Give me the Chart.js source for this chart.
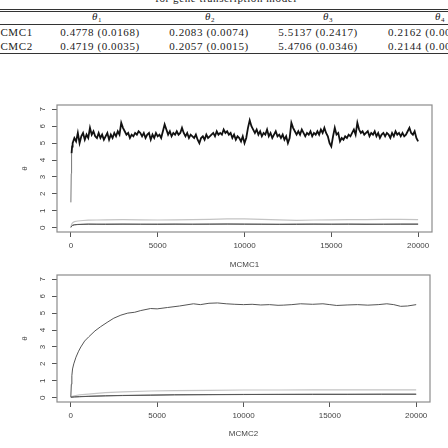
<!DOCTYPE html>
<html><head><meta charset="utf-8">
<script src="https://cdn.jsdelivr.net/npm/chart.js@4.4.0/dist/chart.umd.min.js"></script>
<style>
html,body{margin:0;padding:0;background:#fff;width:448px;height:448px;overflow:hidden;position:relative;font-family:"Liberation Serif","DejaVu Serif",serif;}
.t{position:absolute;white-space:nowrap;font-size:11px;letter-spacing:0.6px;color:#222;transform:translate(-50%,-50%);}
.l{position:absolute;white-space:nowrap;font-size:11px;letter-spacing:0.6px;color:#222;transform:translateY(-50%);}
.rule{position:absolute;left:0;width:448px;background:#333;height:1px;}
sub{font-size:7px;vertical-align:-2px;}
canvas{position:absolute;left:0;}
</style></head>
<body>
<div class="t" style="left:226px;top:-2px;">for gene transcription model</div>
<div class="rule" style="top:9px;"></div>
<div class="rule" style="top:11px;"></div>
<div class="t" style="left:97px;top:17px;"><i>θ</i><sub>1</sub></div>
<div class="t" style="left:210px;top:17px;"><i>θ</i><sub>2</sub></div>
<div class="t" style="left:328px;top:17px;"><i>θ</i><sub>3</sub></div>
<div class="t" style="left:440px;top:17px;"><i>θ</i><sub>4</sub></div>
<div class="rule" style="top:24px;"></div>
<div class="l" style="left:-10px;top:32px;">MCMC1</div>
<div class="t" style="left:100px;top:32px;">0.4778 (0.0168)</div>
<div class="t" style="left:209px;top:32px;">0.2083 (0.0074)</div>
<div class="t" style="left:318px;top:32px;">5.5137 (0.2417)</div>
<div class="l" style="left:388px;top:32px;">0.2162 (0.0073)</div>
<div class="l" style="left:-10px;top:46px;">MCMC2</div>
<div class="t" style="left:100px;top:46px;">0.4719 (0.0035)</div>
<div class="t" style="left:209px;top:46px;">0.2057 (0.0015)</div>
<div class="t" style="left:318px;top:46px;">5.4706 (0.0346)</div>
<div class="l" style="left:388px;top:46px;">0.2144 (0.0016)</div>
<div class="rule" style="top:53px;"></div>
<canvas id="c1" width="448" height="178" style="top:95px;"></canvas>
<canvas id="c2" width="448" height="183" style="top:265px;"></canvas>
<script>
// ---- data ----
const xTicks = [0, 5000, 10000, 15000, 20000];
const yTicks = [0, 1, 2, 3, 4, 5, 6, 7];

// MCMC1, theta3 trace
const iterA = [0,20,40,70,
100,200,300,400,500,600,700,800,900,1000,
1100,1200,1300,1400,1500,1600,1700,1800,1900,2000,
2100,2200,2300,2400,2500,2600,2700,2800,2900,3000,
3100,3200,3300,3400,3500,3600,3700,3800,3900,4000,
4100,4200,4300,4400,4500,4600,4700,4800,4900,5000,
5100,5200,5300,5400,5500,5600,5700,5800,5900,6000,
6100,6200,6300,6400,6500,6600,6700,6800,6900,7000,
7100,7200,7300,7400,7500,7600,7700,7800,7900,8000,
8100,8200,8300,8400,8500,8600,8700,8800,8900,9000,
9100,9200,9300,9400,9500,9600,9700,9800,9900,10000,
10100,10200,10300,10400,10500,10600,10700,10800,10900,11000,
11100,11200,11300,11400,11500,11600,11700,11800,11900,12000,
12100,12200,12300,12400,12500,12600,12700,12800,12900,13000,
13100,13200,13300,13400,13500,13600,13700,13800,13900,14000,
14100,14200,14300,14400,14500,14600,14700,14800,14900,15000,
15100,15200,15300,15400,15500,15600,15700,15800,15900,16000,
16100,16200,16300,16400,16500,16600,16700,16800,16900,17000,
17100,17200,17300,17400,17500,17600,17700,17800,17900,18000,
18100,18200,18300,18400,18500,18600,18700,18800,18900,19000,
19100,19200,19300,19400,19500,19600,19700,19800,19900,20000];
const mcmc1Theta3 = [1.5,3.2,4.4,4.8,
5.0,5.3,5.1,5.6,5.0,5.4,5.6,5.2,5.5,5.3,
5.9,5.5,5.7,5.4,5.3,5.6,5.3,5.5,5.2,5.4,
5.6,5.2,5.5,5.3,5.6,5.4,5.7,5.5,6.2,5.9,
5.7,5.5,5.6,5.3,5.5,5.4,5.6,5.5,5.7,5.6,
5.4,5.6,5.3,5.5,5.6,5.2,5.5,5.3,5.6,5.4,
5.5,5.3,5.7,6.1,5.8,5.5,5.7,5.4,5.6,5.5,
5.7,5.5,5.6,5.9,5.6,5.4,5.6,5.3,5.5,5.4,
5.3,5.5,5.2,5.0,5.3,5.4,5.2,5.5,5.3,5.4,
5.5,5.6,5.4,5.7,5.5,5.6,5.5,5.8,5.6,5.7,
5.5,5.6,5.3,5.5,5.2,5.4,5.3,5.1,5.4,5.0,
5.3,5.9,6.35,6.0,5.8,5.6,5.8,5.5,5.7,5.4,
5.6,5.5,5.8,5.4,5.6,5.3,5.5,5.7,5.4,5.5,
5.3,5.5,5.2,5.4,5.0,5.3,6.2,5.9,5.7,5.5,
5.7,5.5,5.8,5.6,5.4,5.6,5.5,5.7,5.4,5.6,
5.5,5.7,5.5,5.8,5.6,5.9,5.6,5.4,5.0,4.8,
5.4,5.9,5.5,5.6,5.1,5.3,5.2,5.4,5.3,5.5,
5.4,5.6,5.8,5.5,6.2,5.8,5.6,5.7,5.5,5.6,
5.7,5.4,5.6,5.5,5.7,5.4,5.6,5.3,5.5,5.6,
5.4,5.6,5.5,5.3,5.6,5.4,5.7,5.5,5.6,5.4,
5.6,5.4,5.5,5.7,5.9,5.6,5.5,5.7,5.3,5.1];

// MCMC1, theta1 / theta2 / theta4 traces
const iterB = [0,50,100,200,400,700,1000,1500,2000,3000,4000,5000,6000,7000,8000,9000,10000,11000,12000,13000,14000,15000,16000,17000,18000,19000,20000];
const mcmc1Theta1 = [0.05,0.22,0.3,0.36,0.4,0.43,0.45,0.46,0.47,0.48,0.47,0.46,0.47,0.48,0.5,0.53,0.52,0.49,0.47,0.44,0.46,0.47,0.48,0.48,0.49,0.5,0.48];
const mcmc1Theta2 = [0.02,0.1,0.14,0.17,0.19,0.2,0.21,0.21,0.2,0.21,0.21,0.2,0.21,0.21,0.21,0.22,0.21,0.21,0.2,0.2,0.21,0.21,0.21,0.2,0.21,0.21,0.21];
const mcmc1Theta4 = [0.03,0.11,0.15,0.18,0.2,0.21,0.22,0.21,0.22,0.22,0.21,0.22,0.22,0.21,0.22,0.22,0.22,0.21,0.21,0.22,0.22,0.21,0.22,0.22,0.21,0.22,0.22];

// MCMC2, theta3 (running mean style curve)
const iterC = [0,30,60,100,170,300,450,580,800,1040,1400,1730,2100,2490,2900,3300,3700,4050,4620,5000,5600,6300,7100,7500,8000,8500,9000,9500,10000,10500,11000,11500,12000,12300,12800,13300,14000,14600,15000,15400,16000,16600,17200,17800,18300,18700,19100,19500,20000];
const mcmc2Theta3 = [0.05,0.8,1.3,1.7,2.0,2.4,2.75,3.0,3.35,3.6,3.95,4.2,4.45,4.7,4.88,5.0,5.05,5.15,5.27,5.25,5.33,5.42,5.55,5.5,5.58,5.6,5.55,5.52,5.5,5.52,5.48,5.5,5.46,5.47,5.5,5.55,5.52,5.55,5.5,5.45,5.48,5.5,5.47,5.5,5.55,5.5,5.4,5.42,5.5];

// MCMC2, theta1 / theta2 / theta4
const iterD = [0,200,500,1000,2000,3000,4600,6000,8000,10000,12000,14000,16000,18000,20000];
const mcmc2Theta1 = [0.05,0.12,0.17,0.22,0.3,0.35,0.4,0.42,0.44,0.46,0.46,0.47,0.47,0.47,0.47];
const mcmc2Theta2 = [0.03,0.05,0.06,0.08,0.11,0.13,0.15,0.17,0.18,0.19,0.2,0.2,0.2,0.21,0.21];
const mcmc2Theta4 = [0.03,0.05,0.07,0.09,0.12,0.14,0.16,0.18,0.19,0.2,0.2,0.21,0.21,0.21,0.21];

const xTitles = ['MCMC1', 'MCMC2'];
const yTitle = 'θ';

// ---- drawing ----
const pts = (xs, ys) => xs.map((x, i) => ({x: x, y: ys[i]}));
const line = (data, color, w) => ({data, borderColor: color, borderWidth: w, pointRadius: 0, tension: 0, fill: false, borderJoinStyle: 'miter'});
const tickFont = {family: '"Liberation Sans", Arial, sans-serif', size: 8};

const boxPlugin = {
  id: 'rbox',
  afterDraw(chart) {
    const {ctx, chartArea: a, scales} = chart;
    ctx.save();
    ctx.strokeStyle = '#8c8c8c';
    ctx.lineWidth = 1.2;
    ctx.strokeRect(a.left, a.top, a.right - a.left, a.bottom - a.top);
    ctx.fillStyle = '#444';
    ctx.font = '8px "Liberation Sans", Arial, sans-serif';
    ctx.textAlign = 'center';
    ctx.textBaseline = 'middle';
    yTicks.forEach(v => {
      const y = scales.y.getPixelForValue(v);
      ctx.save();
      ctx.translate(43, y);
      ctx.rotate(-Math.PI / 2);
      ctx.fillText(String(v), 0, 0);
      ctx.restore();
    });
    ctx.restore();
  }
};

function makeChart(id, datasets, title, padRight, xHeight, titlePadBottom) {
  const cv = document.getElementById(id);
  return new Chart(cv, {
    type: 'line',
    data: {datasets},
    plugins: [boxPlugin],
    options: {
      responsive: false, animation: false, devicePixelRatio: 1,
      layout: {padding: {top: 10, right: padRight, bottom: 0, left: 0}},
      plugins: {legend: {display: false}, tooltip: {enabled: false}},
      scales: {
        x: {
          type: 'linear', min: -800, max: 20800,
          afterBuildTicks: s => { s.ticks = xTicks.map(v => ({value: v})); },
          afterFit: s => { s.height = xHeight; },
          border: {display: false},
          grid: {drawOnChartArea: false, drawTicks: true, tickLength: 5, color: '#555'},
          ticks: {font: tickFont, color: '#444', padding: 4, maxRotation: 0, autoSkip: false, callback: v => String(v)},
          title: {display: true, text: title, font: tickFont, color: '#444', padding: {top: 0, bottom: titlePadBottom}}
        },
        y: {
          type: 'linear', min: -0.25, max: 7.25,
          afterBuildTicks: s => { s.ticks = yTicks.map(v => ({value: v})); },
          afterFit: s => { s.width = 57; },
          border: {display: false},
          grid: {drawOnChartArea: false, drawTicks: true, tickLength: 5, color: '#555'},
          ticks: {font: tickFont, color: 'rgba(0,0,0,0)'},
          title: {display: true, text: yTitle, font: tickFont, color: '#444', padding: {top: 20, bottom: 0}}
        }
      }
    }
  });
}

const trace1 = line(pts(iterA, mcmc1Theta3), '#111', 1.8);
trace1.segment = {
  borderColor: c => c.p0DataIndex < 2 ? '#777' : undefined,
  borderWidth: c => c.p0DataIndex < 2 ? 1 : undefined
};

makeChart('c1', [
  trace1,
  line(pts(iterB, mcmc1Theta2), '#555', 1),
  line(pts(iterB, mcmc1Theta4), '#777', 1),
  line(pts(iterB, mcmc1Theta1), '#c4c4c4', 1.2)
], xTitles[0], 16, 41, 3);

makeChart('c2', [
  line(pts(iterC, mcmc2Theta3), '#555', 1),
  line(pts(iterD, mcmc2Theta2), '#555', 1),
  line(pts(iterD, mcmc2Theta4), '#777', 1),
  line(pts(iterD, mcmc2Theta1), '#c4c4c4', 1.2)
], xTitles[1], 18, 46, 9);
</script>
</body></html>
